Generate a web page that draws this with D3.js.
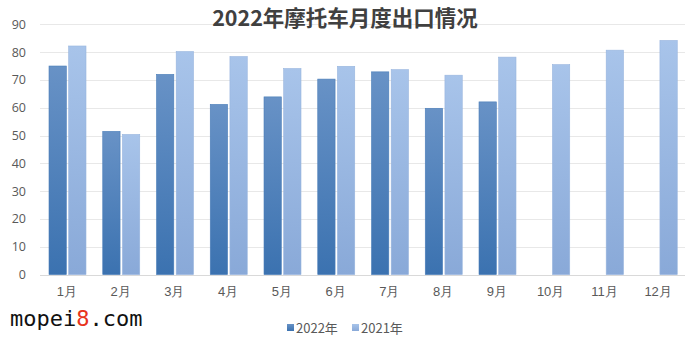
<!DOCTYPE html>
<html>
<head>
  <meta charset="utf-8">
  <title>2022年摩托车月度出口情况</title>
  <style>
    body { margin: 0; background: #fff; }
    svg { display: block; font-family: "Noto Sans CJK SC", "Open Sans", sans-serif; }
  </style>
</head>
<body>
  <svg width="700" height="342"></svg>
  <script src="https://cdn.jsdelivr.net/npm/d3@7/dist/d3.min.js"></script>
  <script>
  // data
  var months = ["1月", "2月", "3月", "4月", "5月", "6月", "7月", "8月", "9月", "10月", "11月", "12月"];
  var series = ["2022年", "2021年"];
  var values2022 = [75, 51.5, 72, 61.2, 63.9, 70.3, 72.9, 59.8, 62.1, null, null, null];
  var values2021 = [82.2, 50.4, 80.2, 78.4, 74.1, 74.9, 73.7, 71.7, 78.2, 75.5, 80.7, 84.2];
  var yTicks = [0, 10, 20, 30, 40, 50, 60, 70, 80, 90];

  var svg = d3.select("svg");
  // plot edges (note: "top" is reserved on window, so use other names)
  var plotL = 40, plotR = 685, plotT = 24.3, plotB = 274.6;

  var x = d3.scaleBand().domain(months).range([plotL, plotR]);
  var inner = d3.scaleBand().domain(series).range([9, 46]).paddingInner(0.12);
  var y = d3.scaleLinear().domain([0, 90]).range([plotB, plotT]);

  // gradients
  var defs = svg.append("defs");
  var grads = [["g0", "#6892c6", "#3b72b0"], ["g1", "#a8c4ea", "#89a9d8"]];
  grads.forEach(function(g) {
    var lg = defs.append("linearGradient").attr("id", g[0])
      .attr("x1", 0).attr("y1", 0).attr("x2", 0).attr("y2", 1);
    lg.append("stop").attr("offset", "0%").attr("stop-color", g[1]);
    lg.append("stop").attr("offset", "100%").attr("stop-color", g[2]);
  });
  var fills = ["url(#g0)", "url(#g1)"];
  var strokes = ["#4a7db8", "#98b5de"];

  // grid
  svg.append("g").selectAll("line").data(yTicks).enter().append("line")
    .attr("x1", plotL).attr("x2", plotR)
    .attr("y1", function(d) { return Math.round(y(d)) + 0.5; })
    .attr("y2", function(d) { return Math.round(y(d)) + 0.5; })
    .attr("stroke", function(d) { return d === 0 ? "#d9d9d9" : "#e8e8e8"; })
    .attr("stroke-width", 1);

  // y axis labels
  var yAxis = svg.append("g").attr("transform", "translate(" + 30 + ",0)")
    .call(d3.axisLeft(y).tickValues(yTicks).tickSize(0).tickPadding(4));
  yAxis.select(".domain").remove();
  yAxis.selectAll("text").attr("fill", "#595959").attr("font-size", 12.5)
    .attr("font-family", "'Open Sans', sans-serif");

  // x axis labels
  var xAxis = svg.append("g").attr("transform", "translate(0," + (plotB + 10) + ")")
    .call(d3.axisBottom(x).tickSize(0).tickPadding(2));
  xAxis.select(".domain").remove();
  xAxis.selectAll("text").attr("fill", "#595959").attr("font-size", 13);

  // bars
  var all = [values2022, values2021];
  all.forEach(function(vals, si) {
    svg.append("g").selectAll("rect")
      .data(vals.map(function(v, i) { return { m: months[i], v: v }; })
        .filter(function(d) { return d.v !== null; }))
      .enter().append("rect")
      .attr("x", function(d) { return x(d.m) + inner(series[si]); })
      .attr("width", inner.bandwidth())
      .attr("y", function(d) { return y(d.v); })
      .attr("height", function(d) { return plotB - y(d.v); })
      .attr("fill", fills[si])
      .attr("stroke", strokes[si])
      .attr("stroke-width", 0.6);
  });

  // title
  svg.append("text").attr("x", 345).attr("y", 26).attr("text-anchor", "middle")
    .attr("font-size", 21.5).attr("font-weight", "bold").attr("fill", "#404040")
    .text("2022年摩托车月度出口情况");

  // legend
  var legX = [287, 352];
  series.forEach(function(s, i) {
    var g = svg.append("g").attr("transform", "translate(" + legX[i] + ",328)");
    g.append("rect").attr("x", 0).attr("y", -4).attr("width", 7).attr("height", 7)
      .attr("fill", fills[i]);
    g.append("text").attr("x", 9).attr("y", 5).attr("font-size", 13)
      .attr("fill", "#595959").text(s);
  });

  // watermark
  var wm = svg.append("text").attr("x", 10).attr("y", 326)
    .attr("font-family", "'DejaVu Sans Mono', monospace").attr("font-size", 22)
    .attr("fill", "#111");
  wm.append("tspan").text("mopei");
  wm.append("tspan").attr("fill", "#e8341c").text("8");
  wm.append("tspan").text(".com");
  </script>
</body>
</html>
